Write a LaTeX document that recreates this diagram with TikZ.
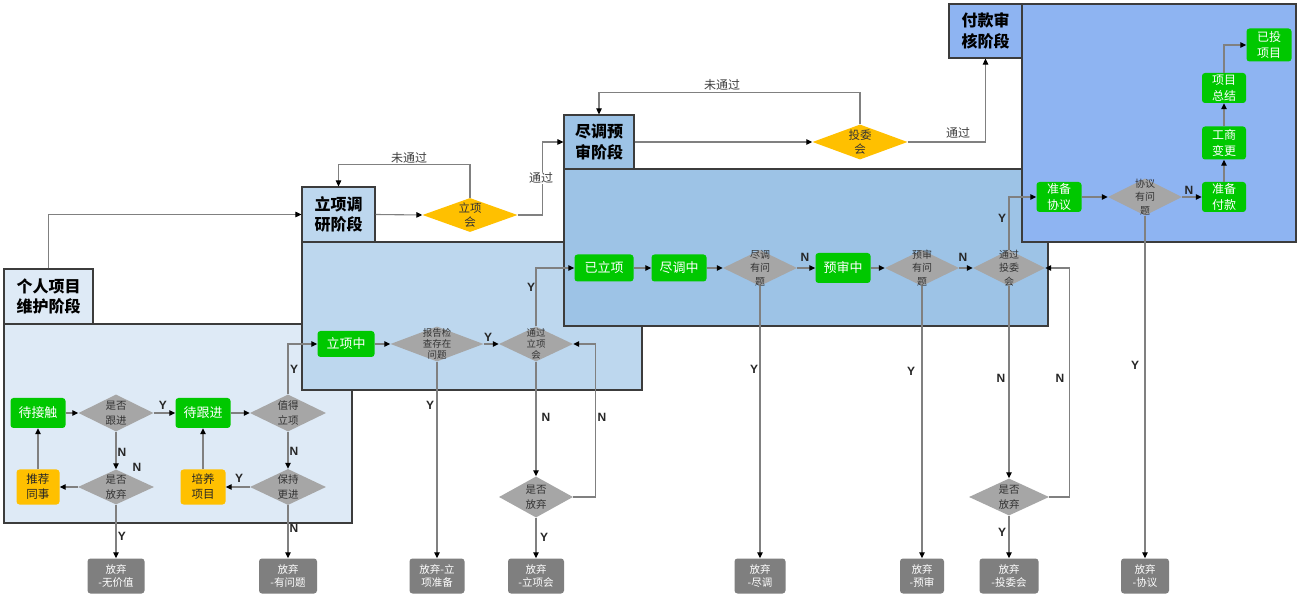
\documentclass[tikz,border=0pt]{standalone}
\usepackage{fontspec}
\setmainfont{Liberation Sans}
\newfontfamily\cjk{Noto Sans CJK SC}
\usetikzlibrary{shapes.geometric,arrows.meta}
\definecolor{grn}{RGB}{0,200,0}
\definecolor{ylw}{RGB}{255,192,0}
\definecolor{diag}{RGB}{166,166,166}
\definecolor{endg}{RGB}{127,127,127}
\definecolor{pa}{RGB}{222,234,246}
\definecolor{pb}{RGB}{189,215,238}
\definecolor{pc}{RGB}{157,195,230}
\definecolor{pd}{RGB}{142,180,242}
\definecolor{bordc}{RGB}{60,60,60}
\definecolor{lineg}{RGB}{128,128,128}
\begin{document}
\begin{tikzpicture}[x=1pt,y=-1pt,
  panel/.style={draw=bordc,line width=1.2pt},
  stagelab/.style={draw=bordc,line width=1.2pt,inner sep=0pt,align=center,
    font=\cjk\bfseries\fontsize{16}{20.5}\selectfont,text=black},
  gbox/.style={rounded corners=3pt,fill=grn,text=white,inner sep=0pt,align=center,
    font=\cjk\fontsize{13}{16}\selectfont},
  gsm/.style={gbox,font=\cjk\fontsize{12}{16}\selectfont},
  ybox/.style={rounded corners=3pt,fill=ylw,text=black!85,inner sep=0pt,align=center,
    font=\cjk\fontsize{11.5}{15}\selectfont},
  ebox/.style={rounded corners=3pt,fill=endg,text=white,inner sep=0pt,align=center,
    minimum height=35pt,font=\cjk\fontsize{10.5}{13.5}\selectfont},
  dia/.style={diamond,fill=diag,inner sep=0pt},
  ydia/.style={diamond,fill=ylw,inner sep=0pt},
  dtxt/.style={inner sep=0pt,align=center,text=black!80,font=\cjk\fontsize{10.5}{14.5}\selectfont},
  dsm/.style={dtxt,font=\cjk\fontsize{9.5}{11}\selectfont},
  dmid/.style={dtxt,font=\cjk\fontsize{10}{13.5}\selectfont},
  ytxt/.style={dtxt,font=\cjk\fontsize{11.5}{13.5}\selectfont},
  yn/.style={inner sep=0pt,font=\bfseries\fontsize{12}{12}\selectfont,text=black!85},
  ctxt/.style={inner sep=1pt,font=\cjk\fontsize{12}{12}\selectfont,text=black!75},
  conn/.style={draw=lineg,line width=1.1pt,-{Triangle[length=6pt,width=5.5pt,color=black]}}
]
\useasboundingbox (0,0) rectangle (1299,601);
\fill[white] (0,0) rectangle (1299,601);

% ---------------- panels and stage labels ----------------
\draw[panel,fill=pa] (4,324) rectangle (352,523);
\node[stagelab,fill=pa,minimum width=89pt,minimum height=55pt] (s1) at (48.5,296.5) {个人项目\\维护阶段};
\draw[panel,fill=pb] (302,242) rectangle (642,390);
\node[stagelab,fill=pb,minimum width=73pt,minimum height=55pt] (s2) at (338.5,214.5) {立项调\\研阶段};
\draw[panel,fill=pc] (564,169) rectangle (1048,326);
\node[stagelab,fill=pc,minimum width=70pt,minimum height=54pt] (s3) at (599,142) {尽调预\\审阶段};
\draw[panel,fill=pd] (1022,4) rectangle (1296,242);
\node[stagelab,fill=pd,minimum width=73pt,minimum height=54pt] (s4) at (985.5,31) {付款审\\核阶段};

% ---------------- stage 1 ----------------
\node[gbox,minimum width=55pt,minimum height=30pt] (c1) at (38,413) {待接触};
\node[dia,minimum width=75pt,minimum height=37pt] (d1) at (116,413) {};
\node[dtxt] (d1t) at (d1) {是否\\跟进};
\node[gbox,minimum width=55pt,minimum height=30pt] (n2) at (203,413) {待跟进};
\node[dia,minimum width=76pt,minimum height=37pt] (d2) at (288,413) {};
\node[dtxt] (d2t) at (d2) {值得\\立项};
\node[dia,minimum width=76pt,minimum height=35pt] (d3) at (116,487) {};
\node[dtxt] (d3t) at (d3) {是否\\放弃};
\node[dia,minimum width=76pt,minimum height=36pt] (d4) at (288,487) {};
\node[dtxt] (d4t) at (d4) {保持\\更进};
\node[ybox,minimum width=43pt,minimum height=35pt] (y1) at (38,487) {推荐\\同事};
\node[ybox,minimum width=45pt,minimum height=35pt] (y2) at (203,487) {培养\\项目};
\node[ebox,minimum width=57pt] (e1) at (116,576) {放弃\\-无价值};
\node[ebox,minimum width=58pt] (e2) at (288,576) {放弃\\-有问题};

% ---------------- stage 2 ----------------
\node[gbox,minimum width=57pt,minimum height=26pt] (lz) at (346,344) {立项中};
\node[dia,minimum width=93pt,minimum height=35pt] (d5) at (437,344) {};
\node[dsm] (d5t) at (d5) {报告检\\查存在\\问题};
\node[dia,minimum width=74pt,minimum height=35pt] (d6) at (536,344) {};
\node[dsm] (d6t) at (d6) {通过\\立项\\会};
\node[ydia,minimum width=95pt,minimum height=34pt] (ym1) at (470,215) {};
\node[ytxt] (ym1t) at (ym1) {立项\\会};
\node[dia,minimum width=74pt,minimum height=41pt] (d7) at (536,497) {};
\node[dtxt] (d7t) at (d7) {是否\\放弃};
\node[ebox,minimum width=55pt] (e3) at (437,576) {放弃-立\\项准备};
\node[ebox,minimum width=56pt] (e4) at (536,576) {放弃\\-立项会};

% ---------------- stage 3 ----------------
\node[gbox,minimum width=59pt,minimum height=27pt] (yl) at (604,268) {已立项};
\node[gbox,minimum width=55pt,minimum height=27pt] (jz) at (679,268) {尽调中};
\node[dia,minimum width=74pt,minimum height=36pt] (d8) at (760,268) {};
\node[dmid] (d8t) at (d8) {尽调\\有问\\题};
\node[gbox,minimum width=55pt,minimum height=30pt] (ys) at (843,268) {预审中};
\node[dia,minimum width=74pt,minimum height=36pt] (d9) at (922,268) {};
\node[dmid] (d9t) at (d9) {预审\\有问\\题};
\node[dia,minimum width=72pt,minimum height=36pt] (d10) at (1009,268) {};
\node[dmid] (d10t) at (d10) {通过\\投委\\会};
\node[ydia,minimum width=95pt,minimum height=35pt] (ym2) at (860,142) {};
\node[ytxt] (ym2t) at (ym2) {投委\\会};
\node[dia,minimum width=80pt,minimum height=37pt] (d11) at (1009,497) {};
\node[dtxt] (d11t) at (d11) {是否\\放弃};
\node[ebox,minimum width=51pt] (e5) at (760,576) {放弃\\-尽调};
\node[ebox,minimum width=44pt] (e6) at (922,576) {放弃\\-预审};
\node[ebox,minimum width=59pt] (e7) at (1009,576) {放弃\\-投委会};

% ---------------- stage 4 ----------------
\node[gsm,minimum width=45pt,minimum height=30pt] (zb) at (1059,197) {准备\\协议};
\node[dia,minimum width=74pt,minimum height=37pt] (d12) at (1145,197) {};
\node[dmid] (d12t) at (d12) {协议\\有问\\题};
\node[gsm,minimum width=44pt,minimum height=30pt] (fk) at (1224,197) {准备\\付款};
\node[gsm,minimum width=44pt,minimum height=33pt] (gs) at (1224,143) {工商\\变更};
\node[gsm,minimum width=44pt,minimum height=30pt] (zj) at (1224,88) {项目\\总结};
\node[gsm,minimum width=45pt,minimum height=33pt] (yt) at (1269,45) {已投\\项目};
\node[ebox,minimum width=48pt] (e8) at (1145,576) {放弃\\-协议};

% ---------------- connectors ----------------
\draw[conn] (s1.north) |- (s2.west);
\draw[conn] (c1.east) -- (d1.west);
\draw[conn] (d1.east) -- (n2.west);
\draw[conn] (n2.east) -- (d2.west);
\draw[conn] (d1.south) -- (d3.north);
\draw[conn] (d3.west) -- (y1.east);
\draw[conn] (y1.north) -- (c1.south);
\draw[conn] (d3.south) -- (e1.north);
\draw[conn] (d2.south) -- (d4.north);
\draw[conn] (d4.west) -- (y2.east);
\draw[conn] (y2.north) -- (n2.south);
\draw[conn] (d4.south) -- (e2.north);
\draw[conn] (d2.north) |- (lz.west);

\draw[conn] (lz.east) -- (d5.west);
\draw[conn] (d5.east) -- (d6.west);
\draw[conn] (d6.north) |- (yl.west);
\draw[conn] (s2.east) -- (ym1.west);
\draw[conn] (ym1.north) -- ++(0,-33) -| (s2.north);
\draw[conn] (ym1.east) -- ++(24.5,0) |- (s3.west);
\draw[conn] (d5.south) -- (e3.north);
\draw[conn] (d6.south) -- (d7.north);
\draw[conn] (d7.east) -- ++(22,0) |- (d6.east);
\draw[conn] (d7.south) -- (e4.north);

\draw[conn] (yl.east) -- (jz.west);
\draw[conn] (jz.east) -- (d8.west);
\draw[conn] (d8.east) -- (ys.west);
\draw[conn] (ys.east) -- (d9.west);
\draw[conn] (d9.east) -- (d10.west);
\draw[conn] (s3.east) -- (ym2.west);
\draw[conn] (ym2.north) -- ++(0,-32) -| (s3.north);
\draw[conn] (ym2.east) -| (s4.south);
\draw[conn] (d10.north) |- (zb.west);
\draw[conn] (d8.south) -- (e5.north);
\draw[conn] (d9.south) -- (e6.north);
\draw[conn] (d10.south) -- (d11.north);
\draw[conn] (d11.east) -- ++(20,0) |- (d10.east);
\draw[conn] (d11.south) -- (e7.north);

\draw[conn] (zb.east) -- (d12.west);
\draw[conn] (d12.east) -- (fk.west);
\draw[conn] (fk.north) -- (gs.south);
\draw[conn] (gs.north) -- (zj.south);
\draw[conn] (zj.north) |- (yt.west);
\draw[conn] (d12.south) -- (e8.north);

% ---------------- connector labels ----------------
\node[yn] (l1) at (163,405) {Y};
\node[yn] (l2) at (122,452) {N};
\node[yn] (l3) at (137,467) {N};
\node[yn] (l4) at (122,536) {Y};
\node[yn] (l5) at (294,369) {Y};
\node[yn] (l6) at (294,451) {N};
\node[yn] (l7) at (239,478) {Y};
\node[yn] (l8) at (294,528) {N};
\node[yn] (l9) at (488,337) {Y};
\node[yn] (l10) at (531,287) {Y};
\node[yn] (l11) at (430,405) {Y};
\node[yn] (l12) at (546,417) {N};
\node[yn] (l13) at (602,417) {N};
\node[yn] (l14) at (544,537) {Y};
\node[yn] (l15) at (805,257) {N};
\node[yn] (l16) at (963,257) {N};
\node[yn] (l17) at (1002,218) {Y};
\node[yn] (l18) at (754,369) {Y};
\node[yn] (l19) at (911,371) {Y};
\node[yn] (l20) at (1001,378) {N};
\node[yn] (l21) at (1060,378) {N};
\node[yn] (l22) at (1002,532) {Y};
\node[yn] (l23) at (1189,190) {N};
\node[yn] (l24) at (1135,365) {Y};
\node[ctxt] (t1) at (409,158) {未通过};
\node[ctxt,fill=white] (t2) at (541,178) {通过};
\node[ctxt] (t3) at (722,85) {未通过};
\node[ctxt] (t4) at (958,133) {通过};
\end{tikzpicture}
\end{document}
